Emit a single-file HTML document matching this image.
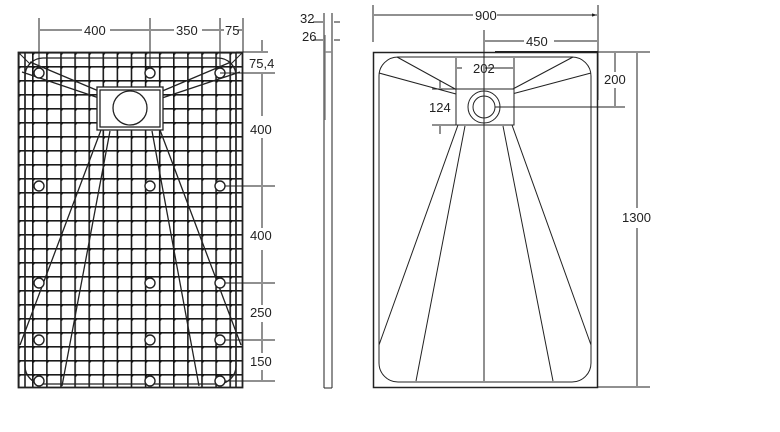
<!DOCTYPE html>
<html><head><meta charset="utf-8"><style>
html,body{margin:0;padding:0;background:#fff;}
svg{display:block;font-family:"Liberation Sans",sans-serif;}
</style></head><body>
<svg width="780" height="432" viewBox="0 0 780 432" xmlns="http://www.w3.org/2000/svg">
<defs>
<pattern id="g" patternUnits="userSpaceOnUse" x="32" y="52" width="14.1" height="14">
<line x1="0.8" y1="0" x2="0.8" y2="14" stroke="#1a1a1a" stroke-width="1.6"/>
<line x1="0" y1="0.8" x2="14.1" y2="0.8" stroke="#1a1a1a" stroke-width="1.6"/>
<circle cx="0.8" cy="0.8" r="2.1" fill="#111"/>
</pattern>
<marker id="a" viewBox="0 0 6 6" refX="6" refY="3" markerWidth="5" markerHeight="5" orient="auto-start-reverse"><path d="M0,1 L6,3 L0,5z" fill="#222"/></marker>
</defs>
<g fill="none" stroke="#222" stroke-width="1">
<!-- LEFT PLATE -->
<rect x="18" y="52" width="225" height="336" fill="url(#g)" stroke="none"/>
<rect x="18.5" y="52.5" width="224" height="335" stroke-width="1.8"/>
<line x1="25" y1="52" x2="25" y2="388" stroke-width="1.6"/>
<line x1="236" y1="52" x2="236" y2="388" stroke-width="1.6"/>
<line x1="18" y1="52" x2="30" y2="64"/><line x1="243" y1="52" x2="231" y2="64"/>
<rect x="25" y="58" width="211" height="326" rx="18" stroke-width="1.3"/>
<!-- slopes -->
<g stroke-width="1.3">
<path d="M30,62 L101,92 M22,72 L99,98 M231,62 L160,92 M240,72 L162,98"/>
<path d="M101,130 L20,345 M110,131 L62,386 M152,131 L199,386 M160,130 L241,345"/>
</g>
<rect x="97" y="87" width="66" height="43" fill="#fff" stroke-width="1.3"/>
<rect x="100" y="90" width="60" height="37" fill="#fff" stroke-width="1.3"/>
<circle cx="130" cy="108" r="17" fill="#fff" stroke-width="1.3"/>
<g fill="#fff" stroke-width="1.4">
<circle cx="39" cy="73" r="5"/><circle cx="150" cy="73" r="5"/><circle cx="220" cy="73" r="5"/>
<circle cx="39" cy="186" r="5"/><circle cx="150" cy="186" r="5"/><circle cx="220" cy="186" r="5"/>
<circle cx="39" cy="283" r="5"/><circle cx="150" cy="283" r="5"/><circle cx="220" cy="283" r="5"/>
<circle cx="39" cy="340" r="5"/><circle cx="150" cy="340" r="5"/><circle cx="220" cy="340" r="5"/>
<circle cx="39" cy="381" r="5"/><circle cx="150" cy="381" r="5"/><circle cx="220" cy="381" r="5"/>
</g>
<!-- left dims -->
<path d="M39,18 V68 M150,18 V68 M220,18 V68 M243,18 V52"/>
<path d="M40,30 H82 M110,30 H149 M151,30 H174 M202,30 H219 M221,30 H224 M238,30 H242"/>
<path d="M220,73 H275 M225,186 H275 M225,283 H275 M225,340 H275 M225,381 H275 M236,52 H268"/>
<path d="M262,40 V51 M262,74 V116 M262,138 V185 M262,187 V228 M262,250 V282 M262,284 V305 M262,322 V339 M262,341 V353 M262,370 V380"/>
</g>
<g font-size="13" fill="#222">
<text x="84" y="35">400</text><text x="176" y="35">350</text><text x="225" y="35">75</text>
<text x="249" y="68">75,4</text><text x="250" y="134">400</text><text x="250" y="240">400</text>
<text x="250" y="317">250</text><text x="250" y="366">150</text>
</g>
<!-- SIDE VIEW -->
<g fill="none" stroke="#222" stroke-width="1">
<path d="M324,13 V388 M332,13 V388 M324,388 H332"/>
<path d="M325,35 V120 M325,52 H332" stroke="#888" stroke-width="1.5"/>
<path d="M313,22 H323 M340,22 H334 M313,40 H323 M340,40 H334"/>
</g>
<g font-size="13" fill="#222"><text x="300" y="23">32</text><text x="302" y="41">26</text></g>
<!-- RIGHT TRAY -->
<g fill="none" stroke="#222" stroke-width="1">
<rect x="373.5" y="52.5" width="224" height="335" stroke-width="1.5"/>
<line x1="495" y1="52" x2="598" y2="52" stroke-width="2"/>
<rect x="379" y="57" width="212" height="325" rx="19"/>
<path d="M397,57 L457,90 M379,73 L456,94 M573,57 L511,90 M591,73 L512,94"/>
<path d="M458,125 L379,345 M465,126 L416,381 M484,125 V381 M503,126 L553,381 M512,125 L591,345"/>
<rect x="456" y="89" width="58" height="36" fill="#fff"/>
<circle cx="484" cy="107" r="16" fill="#fff"/>
<circle cx="484" cy="107" r="11"/>
<!-- dims -->
<path d="M373,5 V42 M598,5 V100 M484,30 V125"/>
<path d="M374,15 H473 M497,15 H597" marker-end="url(#a)"/>
<path d="M485,41 H524 M554,41 H597"/>
<path d="M457,68 H462 M485,68 H513 M456,58 V90 M514,58 V90"/>
<path d="M495,107 H625 M598,52 H650 M598,387 H650"/>
<path d="M615,53 V72 M615,88 V106 M637,53 V208 M637,228 V386"/>
<path d="M432,89 H456 M432,125 H456 M440,80 V88 M440,126 V134"/>
</g>
<g font-size="13" fill="#222">
<text x="475" y="20">900</text><text x="526" y="46">450</text><text x="473" y="73">202</text>
<text x="604" y="84">200</text><text x="622" y="222">1300</text><text x="429" y="112">124</text>
</g>
</svg>
</body></html>
